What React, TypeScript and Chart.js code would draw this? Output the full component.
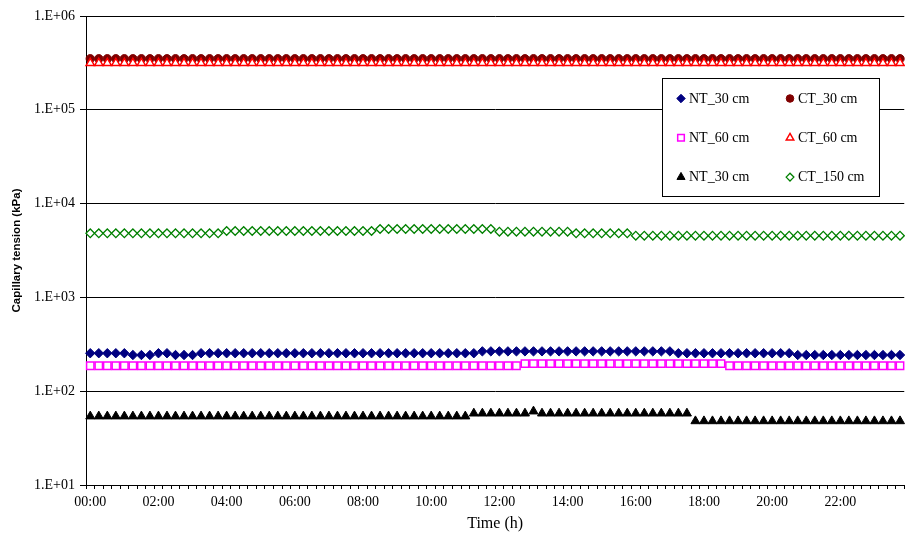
import React, { useEffect, useRef } from 'react';
import { Chart, registerables, PointElement } from 'chart.js';

Chart.register(...registerables);

// ---- categories (15-minute readings over one day) ----
const TIME_LABELS: string[] = [
  '00:00','00:15','00:30','00:45','01:00','01:15','01:30','01:45','02:00','02:15','02:30','02:45','03:00','03:15','03:30','03:45',
  '04:00','04:15','04:30','04:45','05:00','05:15','05:30','05:45','06:00','06:15','06:30','06:45','07:00','07:15','07:30','07:45',
  '08:00','08:15','08:30','08:45','09:00','09:15','09:30','09:45','10:00','10:15','10:30','10:45','11:00','11:15','11:30','11:45',
  '12:00','12:15','12:30','12:45','13:00','13:15','13:30','13:45','14:00','14:15','14:30','14:45','15:00','15:15','15:30','15:45',
  '16:00','16:15','16:30','16:45','17:00','17:15','17:30','17:45','18:00','18:15','18:30','18:45','19:00','19:15','19:30','19:45',
  '20:00','20:15','20:30','20:45','21:00','21:15','21:30','21:45','22:00','22:15','22:30','22:45','23:00','23:15','23:30','23:45',
];

// ---- y-axis tick values ----
const Y_TICKS: number[] = [10, 100, 1000, 10000, 100000, 1000000];

// ---- series values (kPa) ----
const NT_30_BLUE: number[] = [
  254,254,254,254,254,243,243,243,254,254,243,243,243,254,254,254,
  254,254,254,254,254,254,254,254,254,254,254,254,254,254,254,254,
  254,254,254,254,254,254,254,254,254,254,254,254,254,254,266,266,
  266,266,266,266,266,266,266,266,266,266,266,266,266,266,266,266,
  266,266,266,266,266,254,254,254,254,254,254,254,254,254,254,254,
  254,254,254,243,243,243,243,243,243,243,243,243,243,243,243,243,
];

const NT_60: number[] = [
  187,187,187,187,187,187,187,187,187,187,187,187,187,187,187,187,
  187,187,187,187,187,187,187,187,187,187,187,187,187,187,187,187,
  187,187,187,187,187,187,187,187,187,187,187,187,187,187,187,187,
  187,187,187,197,197,197,197,197,197,197,197,197,197,197,197,197,
  197,197,197,197,197,197,197,197,197,197,197,187,187,187,187,187,
  187,187,187,187,187,187,187,187,187,187,187,187,187,187,187,187,
];

const NT_30_BLACK: number[] = [
  54,54,54,54,54,54,54,54,54,54,54,54,54,54,54,54,
  54,54,54,54,54,54,54,54,54,54,54,54,54,54,54,54,
  54,54,54,54,54,54,54,54,54,54,54,54,54,58,58,58,
  58,58,58,58,61,58,58,58,58,58,58,58,58,58,58,58,
  58,58,58,58,58,58,58,48,48,48,48,48,48,48,48,48,
  48,48,48,48,48,48,48,48,48,48,48,48,48,48,48,48,
];

const CT_30: number[] = [
  350000,350000,350000,350000,350000,350000,350000,350000,350000,350000,350000,350000,350000,350000,350000,350000,
  350000,350000,350000,350000,350000,350000,350000,350000,350000,350000,350000,350000,350000,350000,350000,350000,
  350000,350000,350000,350000,350000,350000,350000,350000,350000,350000,350000,350000,350000,350000,350000,350000,
  350000,350000,350000,350000,350000,350000,350000,350000,350000,350000,350000,350000,350000,350000,350000,350000,
  350000,350000,350000,350000,350000,350000,350000,350000,350000,350000,350000,350000,350000,350000,350000,350000,
  350000,350000,350000,350000,350000,350000,350000,350000,350000,350000,350000,350000,350000,350000,350000,350000,
];

const CT_60: number[] = [
  315000,315000,315000,315000,315000,315000,315000,315000,315000,315000,315000,315000,315000,315000,315000,315000,
  315000,315000,315000,315000,315000,315000,315000,315000,315000,315000,315000,315000,315000,315000,315000,315000,
  315000,315000,315000,315000,315000,315000,315000,315000,315000,315000,315000,315000,315000,315000,315000,315000,
  315000,315000,315000,315000,315000,315000,315000,315000,315000,315000,315000,315000,315000,315000,315000,315000,
  315000,315000,315000,315000,315000,315000,315000,315000,315000,315000,315000,315000,315000,315000,315000,315000,
  315000,315000,315000,315000,315000,315000,315000,315000,315000,315000,315000,315000,315000,315000,315000,315000,
];

const CT_150: number[] = [
  4820,4820,4820,4820,4820,4820,4820,4820,4820,4820,4820,4820,4820,4820,4820,4820,
  5100,5100,5100,5100,5100,5100,5100,5100,5100,5100,5100,5100,5100,5100,5100,5100,
  5100,5100,5360,5360,5360,5360,5360,5360,5360,5360,5360,5360,5360,5360,5360,5360,
  5020,5020,5020,5020,5020,5020,5020,5020,5020,4820,4820,4820,4820,4820,4820,4820,
  4550,4550,4550,4550,4550,4550,4550,4550,4550,4550,4550,4550,4550,4550,4550,4550,
  4550,4550,4550,4550,4550,4550,4550,4550,4550,4550,4550,4550,4550,4550,4550,4550,
];

type SeriesDef = {
  label: string;
  data: number[];
  pointStyle: string;
  radius: number;
  fill: string;
  stroke: string;
  borderWidth: number;
};

// legend order (row by row, two columns)
const SERIES: SeriesDef[] = [
  { label: 'NT_30 cm', data: NT_30_BLUE, pointStyle: 'rectRot', radius: 4.7, fill: '#000080', stroke: '#000080', borderWidth: 1 },
  { label: 'CT_30 cm', data: CT_30, pointStyle: 'circle', radius: 4.2, fill: '#800000', stroke: '#800000', borderWidth: 1 },
  { label: 'NT_60 cm', data: NT_60, pointStyle: 'rect', radius: 5.2, fill: '#ffffff', stroke: '#ff00ff', borderWidth: 1.5 },
  { label: 'CT_60 cm', data: CT_60, pointStyle: 'triangle', radius: 4.8, fill: '#ffffff', stroke: '#ff0000', borderWidth: 1.5 },
  { label: 'NT_30 cm', data: NT_30_BLACK, pointStyle: 'triangle', radius: 5.2, fill: '#000000', stroke: '#000000', borderWidth: 1 },
  { label: 'CT_150 cm', data: CT_150, pointStyle: 'rectRot', radius: 4.3, fill: '#ffffff', stroke: '#008000', borderWidth: 1.3 },
];

const SERIF = '"Liberation Serif", "Times New Roman", serif';
const SANS = '"Liberation Sans", Arial, sans-serif';

const boxLegend = {
  id: 'boxLegend',
  afterDraw(chart: any) {
    const ctx = chart.ctx as CanvasRenderingContext2D;
    const box = { x: 662, y: 78, w: 217, h: 118 };
    ctx.save();
    ctx.fillStyle = '#ffffff';
    ctx.fillRect(box.x, box.y, box.w, box.h);
    ctx.strokeStyle = '#000000';
    ctx.lineWidth = 1;
    ctx.strokeRect(box.x + 0.5, box.y + 0.5, box.w, box.h);
    const area = { left: 0, top: 0, right: chart.width, bottom: chart.height };
    SERIES.forEach((s, i) => {
      const col = i % 2;
      const row = Math.floor(i / 2);
      const mx = col === 0 ? 681 : 790;
      const tx = col === 0 ? 689 : 798;
      const y = 98.5 + row * 39.3;
      const pt: any = new PointElement({} as any);
      pt.x = mx;
      pt.y = y;
      pt.options = {
        pointStyle: s.pointStyle,
        radius: s.radius * 0.9,
        rotation: 0,
        borderWidth: s.borderWidth,
        backgroundColor: s.fill,
        borderColor: s.stroke,
      };
      pt.draw(ctx, area);
      ctx.fillStyle = '#000000';
      ctx.font = `14px ${SERIF}`;
      ctx.textBaseline = 'middle';
      ctx.textAlign = 'left';
      ctx.fillText(s.label, tx, y + 0.5);
    });
    ctx.restore();
  },
};

export default function App() {
  const canvasRef = useRef<HTMLCanvasElement | null>(null);

  useEffect(() => {
    const canvas = canvasRef.current;
    if (!canvas) return;
    const chart = new Chart(canvas, {
      type: 'line',
      data: {
        labels: TIME_LABELS,
        datasets: SERIES.map((s, i) => ({
          label: s.label,
          data: s.data,
          showLine: false,
          order: -i,
          pointStyle: s.pointStyle as any,
          pointRadius: s.radius,
          pointHoverRadius: s.radius,
          pointBackgroundColor: s.fill,
          pointBorderColor: s.stroke,
          pointBorderWidth: s.borderWidth,
          backgroundColor: s.fill,
          borderColor: s.stroke,
        })),
      },
      options: {
        animation: false,
        responsive: false,
        maintainAspectRatio: false,
        events: [],
        layout: { autoPadding: false, padding: { top: 16, right: 0, left: 0, bottom: 0 } },
        plugins: {
          legend: { display: false },
          tooltip: { enabled: false },
          title: { display: false },
        },
        scales: {
          x: {
            type: 'category',
            offset: true,
            grid: {
              display: true,
              drawOnChartArea: false,
              drawTicks: true,
              tickLength: 4,
              color: '#000000',
              offset: true,
            },
            border: { display: true, color: '#000000', width: 1 },
            ticks: {
              autoSkip: false,
              maxRotation: 0,
              minRotation: 0,
              padding: 5,
              color: '#000000',
              font: { family: SERIF, size: 14 },
              callback: (_v: any, i: number) => (i % 8 === 0 ? TIME_LABELS[i] : ''),
            },
            title: {
              display: true,
              text: 'Time (h)',
              color: '#000000',
              font: { family: SERIF, size: 16 },
              padding: { top: 0, bottom: 4 },
            },
            afterFit: (s: any) => {
              s.height = 52;
            },
          },
          y: {
            type: 'logarithmic',
            min: 10,
            max: 1000000,
            afterBuildTicks: (s: any) => {
              s.ticks = Y_TICKS.map((v) => ({ value: v }));
            },
            grid: {
              display: true,
              drawOnChartArea: true,
              drawTicks: true,
              tickLength: 6,
              color: '#000000',
            },
            border: { display: true, color: '#000000', width: 1 },
            ticks: {
              autoSkip: false,
              padding: 5,
              color: '#000000',
              font: { family: SERIF, size: 14 },
              callback: (v: any) => '1.E+' + String(Math.round(Math.log10(Number(v)))).padStart(2, '0'),
            },
            title: {
              display: true,
              text: 'Capillary tension (kPa)',
              color: '#000000',
              font: { family: SANS, size: 11.5, weight: 'bold' },
              padding: { top: 10, bottom: 0 },
            },
            afterFit: (s: any) => {
              s.width = 86;
            },
          },
        },
      },
      plugins: [boxLegend],
    } as any);
    return () => {
      chart.destroy();
    };
  }, []);

  return (
    <div style={{ position: 'absolute', left: 0, top: 0, width: 905, height: 537, background: '#ffffff' }}>
      <canvas ref={canvasRef} width={905} height={537} style={{ display: 'block', width: 905, height: 537 }} />
    </div>
  );
}
